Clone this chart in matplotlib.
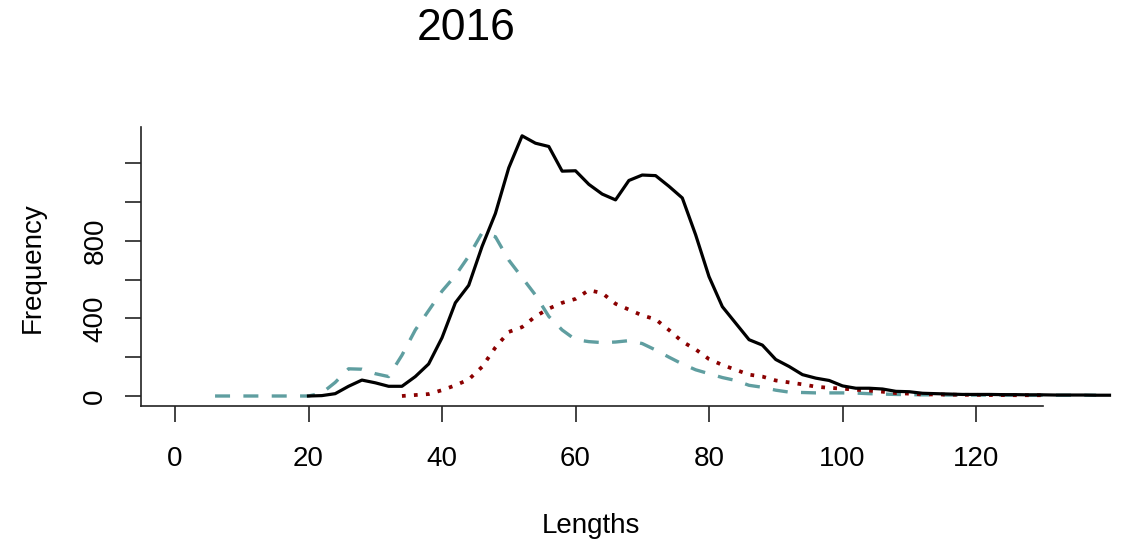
import numpy as np
import matplotlib
matplotlib.use("Agg")
import matplotlib.pyplot as plt

# length classes (cm) and frequencies
len_total = list(range(20, 142, 2))
freq_total = [0, 2, 12, 50, 82, 68, 50, 50, 100, 165,
              300, 480, 570, 770, 940, 1175, 1340, 1302, 1285, 1158,
              1160, 1090, 1040, 1010, 1110, 1138, 1135, 1080, 1020, 830,
              615, 460, 375, 290, 262, 188, 152, 110, 92, 80,
              52, 40, 40, 36, 24, 22, 14, 12, 10, 8,
              8, 8, 7, 7, 6, 6, 5, 5, 5, 4, 4]

len_a = list(range(6, 140, 2))
freq_a = [0, 0, 0, 0, 0, 0, 0, 0, 15, 70,
          140, 138, 115, 100, 210, 340, 440, 540, 620, 720,
          840, 820, 700, 610, 520, 410, 340, 290, 280, 275,
          278, 285, 270, 237, 200, 165, 135, 115, 95, 80,
          55, 45, 30, 20, 18, 16, 16, 16, 15, 12,
          10, 8, 7, 6, 6, 5, 5, 5, 5, 5, 4, 4, 4, 4, 4, 4, 4]

len_b = list(range(34, 132, 2))
freq_b = [0, 5, 10, 30, 55, 85, 150, 250, 330, 355,
          410, 450, 480, 500, 545, 530, 475, 445, 415, 395,
          340, 280, 240, 190, 160, 135, 110, 100, 80, 70,
          60, 48, 42, 38, 32, 28, 22, 15, 12, 8,
          8, 7, 6, 6, 5, 5, 4, 4, 4]

yticks = [0, 200, 400, 600, 800, 1000, 1200]
ylabels = ["0", "", "400", "", "800", "", ""]
xticks = [0, 20, 40, 60, 80, 100, 120]

narrow = ["Liberation Sans Narrow", "Liberation Sans", "DejaVu Sans"]

W, H = 1122, 541
fig = plt.figure(figsize=(W / 100, H / 100), dpi=100)
ax = fig.add_axes([141 / W, 1 - 406 / H, (1120 - 141) / W, (406 - 127) / H])

ax.plot(len_total, freq_total, color="black", lw=2.3, zorder=3)
ax.plot(len_a, freq_a, color="#5F9EA0", lw=2.4, dashes=(4.5, 4))
ax.plot(len_b, freq_b, color="#8B0000", lw=2.7, dashes=(1.0, 2.2))

x0 = 175
sx = (976 - 175) / 120
ax.set_xlim((141 - x0) / sx, (1120 - x0) / sx)
sy = (396 - 163) / 1200
ax.set_ylim(-(406 - 396) / sy, (396 - 127) / sy)

for s in ["top", "right"]:
    ax.spines[s].set_visible(False)
for s in ["left", "bottom"]:
    ax.spines[s].set_linewidth(1.2)
    ax.spines[s].set_color("#222222")
ax.spines["bottom"].set_bounds((141 - x0) / sx, 130)

ax.set_xticks(xticks)
ax.set_xticklabels([str(v) for v in xticks], family=narrow, fontsize=20)
ax.set_yticks(yticks)
ax.set_yticklabels(ylabels, family=narrow, fontsize=20, rotation=90, va="center")
ax.tick_params(axis="both", direction="out", length=11.5, width=1.2, color="#222222")
ax.tick_params(axis="x", pad=17)
ax.tick_params(axis="y", pad=12)

fig.text(466 / W, 1 - 29 / H, "2016", ha="center", va="center",
         fontsize=32, family=["Liberation Sans", "DejaVu Sans"])
fig.text(591 / W, 1 - 526 / H, "Lengths", ha="center", va="center",
         fontsize=20, family=narrow)
fig.text(33 / W, 1 - 268 / H, "Frequency", ha="center", va="center",
         fontsize=20, family=narrow, rotation=90)

fig.savefig("out.png", dpi=100)
